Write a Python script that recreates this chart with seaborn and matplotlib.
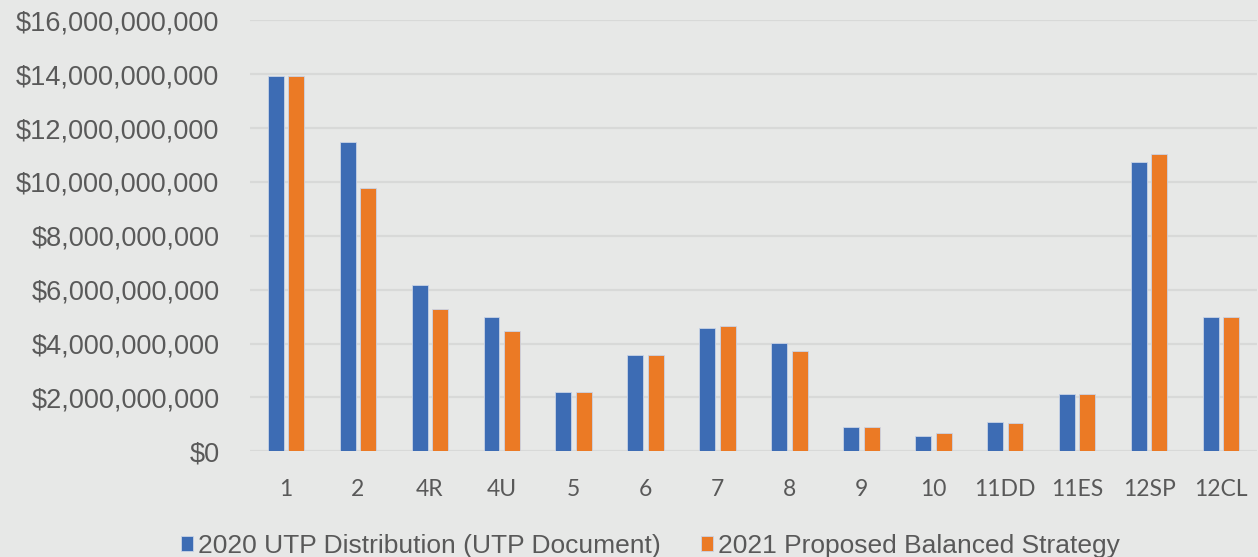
import pandas as pd
import matplotlib.pyplot as plt
import matplotlib.ticker as mticker
import seaborn as sns

# Chart data
districts = ["1", "2", "4R", "4U", "5", "6", "7", "8", "9", "10",
             "11DD", "11ES", "12SP", "12CL"]
utp_2020 = [13.93e9, 11.49e9, 6.19e9, 5.00e9, 2.20e9, 3.57e9, 4.58e9,
            4.03e9, 0.90e9, 0.57e9, 1.08e9, 2.12e9, 10.74e9, 5.00e9]
balanced_2021 = [13.93e9, 9.78e9, 5.28e9, 4.48e9, 2.20e9, 3.57e9, 4.65e9,
                 3.73e9, 0.90e9, 0.68e9, 1.04e9, 2.12e9, 11.04e9, 5.00e9]
series_names = ["2020 UTP Distribution (UTP Document)",
                "2021 Proposed Balanced Strategy"]

df = pd.DataFrame({
    "District": districts * 2,
    "Amount": utp_2020 + balanced_2021,
    "Series": [series_names[0]] * len(districts) + [series_names[1]] * len(districts),
})

bg = "#e7e8e7"
text_col = "#595959"

sns.set_style("white")
plt.rcParams["font.family"] = ["Liberation Sans", "DejaVu Sans"]

fig = plt.figure(figsize=(12.58, 5.57), dpi=100, facecolor=bg)
ax = fig.add_axes([250 / 1258, 1 - 451.3 / 557, 1007 / 1258, 431 / 557])
ax.set_facecolor(bg)

sns.barplot(
    data=df, x="District", y="Amount", hue="Series",
    palette=["#3d6cb4", "#eb7a25"], saturation=1, width=0.57, gap=0.22,
    edgecolor="#c9d3e6", linewidth=0.6, ax=ax, legend=True,
)

ax.set_ylim(0, 16e9)
ax.set_xlim(-0.5, 13.5)
ax.yaxis.set_major_locator(mticker.MultipleLocator(2e9))
ax.yaxis.set_major_formatter(mticker.FuncFormatter(lambda v, p: f"${v:,.0f}"))
ax.grid(axis="y", color="#d8d9d8", linewidth=1.6)
ax.set_axisbelow(True)
for s in ax.spines.values():
    s.set_visible(False)
ax.set_xlabel("")
ax.set_ylabel("")
ax.tick_params(axis="y", length=0, pad=22, labelsize=19.5, labelcolor=text_col)
ax.tick_params(axis="x", length=0, pad=20, labelcolor=text_col)
for lab in ax.get_xticklabels():
    lab.set_fontfamily(["Lato", "DejaVu Sans"])
    lab.set_fontsize(16.5)

handles, labels = ax.get_legend_handles_labels()
ax.get_legend().remove()
fig.legend(handles, labels, loc="center", bbox_to_anchor=(0.517, 11 / 557),
           ncol=2, frameon=False, fontsize=19, labelcolor=text_col,
           handlelength=0.47, handleheight=0.47, handletextpad=0.2,
           columnspacing=1.5, borderaxespad=0)

fig.savefig("out.png", dpi=100, facecolor=bg)
